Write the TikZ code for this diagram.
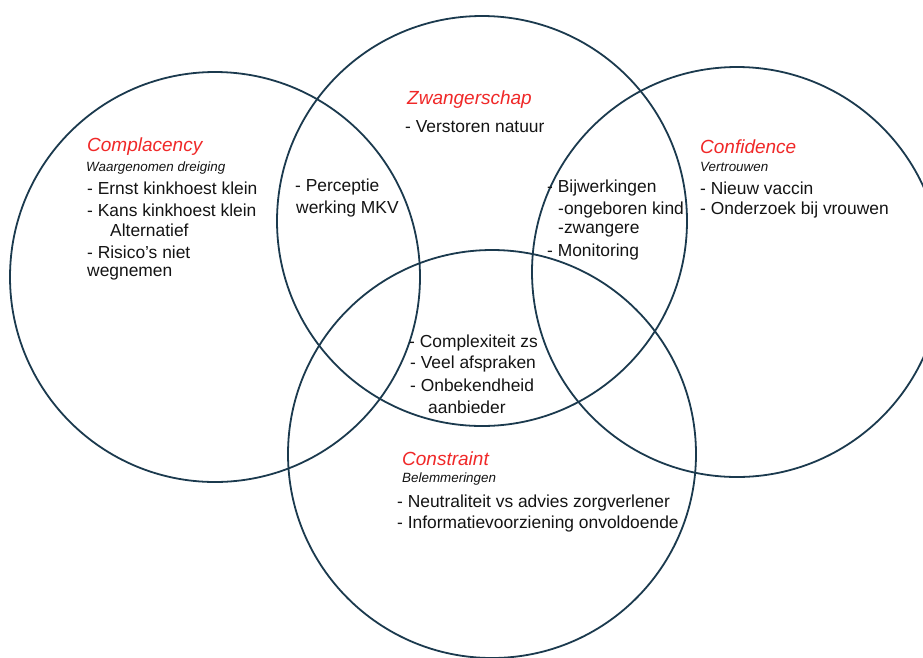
\documentclass[tikz,border=0pt]{standalone}
\usepackage{fontspec}
\setmainfont{Liberation Sans}
\definecolor{ring}{HTML}{1B3A4E}
\definecolor{headred}{HTML}{F02828}
\definecolor{ink}{HTML}{141414}
\begin{document}
\begin{tikzpicture}[x=1pt,y=-1pt,
  ringline/.style={draw=ring,line width=1.8pt},
  head/.style={anchor=west,inner sep=0pt,text=headred,font=\fontsize{19}{22}\selectfont\itshape},
  sub/.style={anchor=west,inner sep=0pt,text=ink,font=\fontsize{13.4}{15}\selectfont\itshape},
  item/.style={anchor=west,inner sep=0pt,text=ink,font=\fontsize{17.4}{20}\selectfont}]
\useasboundingbox (0,0) rectangle (923,657);
\clip (0,0) rectangle (923,657);
\fill[white] (0,0) rectangle (923,657);

% the four overlapping sets
\draw[ringline] (215,277) circle[radius=205];
\draw[ringline] (482,221) circle[radius=205];
\draw[ringline] (737,272) circle[radius=205];
\draw[ringline] (492,454) circle[radius=204];

% Complacency
\node[head] (cmpH) at (87,147) {Complacency};
\node[sub]  (cmpS) at (86,168) {Waargenomen dreiging};
\node[item] (cmp1) at (87,188) {- Ernst kinkhoest klein};
\node[item] (cmp2) at (87,210) {- Kans kinkhoest klein};
\node[item] (cmp3) at (110,230) {Alternatief};
\node[item] (cmp4) at (87,252) {- Risico’s niet};
\node[item] (cmp5) at (87,274) {wegnemen};

% Zwangerschap
\node[head] (zwH) at (407,100) {Zwangerschap};
\node[item] (zw1) at (405,127) {- Verstoren natuur};

% Complacency and Zwangerschap
\node[item] (cz1) at (295,187) {- Perceptie};
\node[item] (cz2) at (296,209) {werking MKV};

% Zwangerschap and Confidence
\node[item] (zc1) at (547,188) {- Bijwerkingen};
\node[item] (zc2) at (558,210) {-ongeboren kind};
\node[item] (zc3) at (558,231) {-zwangere};
\node[item] (zc4) at (547,252) {- Monitoring};

% Confidence
\node[head] (cfH) at (700,147) {Confidence};
\node[sub]  (cfS) at (700,167) {Vertrouwen};
\node[item] (cf1) at (700,188) {- Nieuw vaccin};
\node[item] (cf2) at (700,210) {- Onderzoek bij vrouwen};

% centre overlap
\node[item] (mid1) at (409,343) {- Complexiteit zs};
\node[item] (mid2) at (410,364) {- Veel afspraken};
\node[item] (mid3) at (410,385) {- Onbekendheid};
\node[item] (mid4) at (428,407) {aanbieder};

% Constraint
\node[head] (csH) at (402,459) {Constraint};
\node[sub]  (csS) at (402,479) {Belemmeringen};
\node[item] (cs1) at (397,503) {- Neutraliteit vs advies zorgverlener};
\node[item] (cs2) at (397,524) {- Informatievoorziening onvoldoende};
\end{tikzpicture}
\end{document}
